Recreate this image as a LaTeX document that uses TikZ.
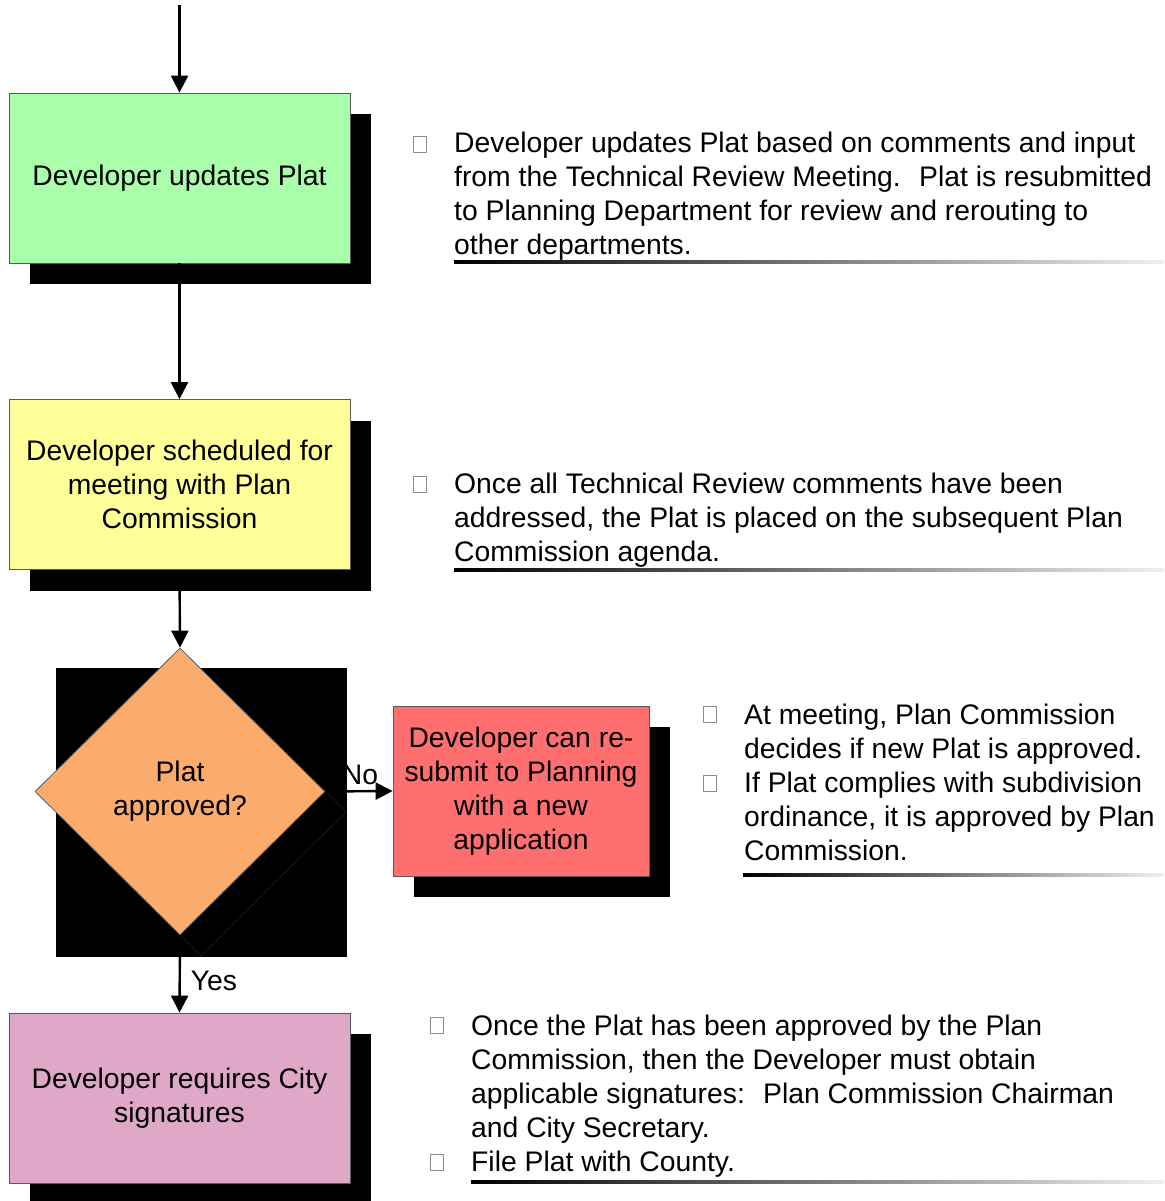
\documentclass[tikz,border=0pt]{standalone}
\usepackage{fontspec}
\setmainfont{Liberation Sans}
\usetikzlibrary{arrows.meta,shapes.geometric,shadows}
\definecolor{updgreen}{RGB}{170,255,170}
\definecolor{schedyellow}{RGB}{255,255,153}
\definecolor{decorange}{RGB}{251,172,109}
\definecolor{resubred}{RGB}{255,111,111}
\definecolor{sigpink}{RGB}{224,168,200}
\begin{document}
\begin{tikzpicture}[x=1pt,y=-1pt,
  every node/.style={font=\fontsize{28.3}{34}\selectfont, inner sep=0pt},
  proc/.style={draw=black!65, line width=0.8pt, minimum width=341pt,
    minimum height=170pt, align=center,
    drop shadow={shadow xshift=21pt, shadow yshift=-21pt, fill=black, opacity=1}},
  flow/.style={line width=2.4pt, -{Triangle[width=17pt,length=17pt]}},
  bulletbox/.style={draw=black!45, line width=0.8pt, minimum width=13pt, minimum height=16pt},
  note/.style={anchor=base west, align=left},
  fadeline/.style={left color=black, right color=black!6}]
\useasboundingbox (0,0) rectangle (1164,1201);

% process boxes
\node[proc, fill=updgreen] (upd) at (179.5,178) {Developer updates Plat};
\node[proc, fill=schedyellow] (sched) at (179.5,484.5)
  {Developer scheduled for\\meeting with Plan\\Commission};

% decision with its square shadow
\fill[black] (56,668) rectangle (347,957);
\draw[black!88, line width=0.6pt] (325,791) -- (346,812) -- (201,956) -- (180,935);
\node[diamond, shape aspect=1, minimum width=290pt, minimum height=287pt,
  fill=decorange, draw=black!65, line width=0.8pt, align=center] (dec) at (180,791.5)
  {Plat\\approved?};

\node[proc, fill=resubred, minimum width=256pt] (resub) at (521,791)
  {Developer can re-\\submit to Planning\\with a new\\application};
\node[proc, fill=sigpink] (sig) at (179.5,1098)
  {Developer requires City\\signatures};

% connectors
\coordinate (start) at (179.5,5);
\draw[flow] (start) -- (upd.north);
\draw[flow] (upd.south) -- (sched.north);
\draw[flow] (sched.south) -- (dec.north);
\draw[flow] (dec.east) -- (resub.west);
\draw[flow] (dec.south) -- (sig.north);
\node (no) at (360,775) {No};
\node (yes) at (214,981) {Yes};

% notes
\node[bulletbox] (b1) at (419.5,144) {};
\node[note] (t1) at (454,153) {\parbox[t]{720pt}{\raggedright
  Developer updates Plat based on comments and input\\
  from the Technical Review Meeting. \ Plat is resubmitted\\
  to Planning Department for review and rerouting to\\
  other departments.}};
\shade[fadeline] (454,260.5) rectangle (1164,263.5);

\node[bulletbox] (b2) at (419.5,484) {};
\node[note] (t2) at (454,493.5) {\parbox[t]{720pt}{\raggedright
  Once all Technical Review comments have been\\
  addressed, the Plat is placed on the subsequent Plan\\
  Commission agenda.}};
\shade[fadeline] (454,568.5) rectangle (1164,571.5);

\node[bulletbox] (b3) at (710,714) {};
\node[bulletbox] (b4) at (710,783) {};
\node[note] (t3) at (744,724.5) {\parbox[t]{420pt}{\raggedright
  At meeting, Plan Commission\\
  decides if new Plat is approved.\\
  If Plat complies with subdivision\\
  ordinance, it is approved by Plan\\
  Commission.}};
\shade[fadeline] (743,873.5) rectangle (1164,876.5);

\node[bulletbox] (b5) at (437,1025) {};
\node[bulletbox] (b6) at (437,1162) {};
\node[note] (t4) at (471,1035) {\parbox[t]{690pt}{\raggedright
  Once the Plat has been approved by the Plan\\
  Commission, then the Developer must obtain\\
  applicable signatures: \ Plan Commission Chairman\\
  and City Secretary.\\
  File Plat with County.}};
\shade[fadeline] (471,1180.5) rectangle (1164,1183.5);
\end{tikzpicture}
\end{document}
